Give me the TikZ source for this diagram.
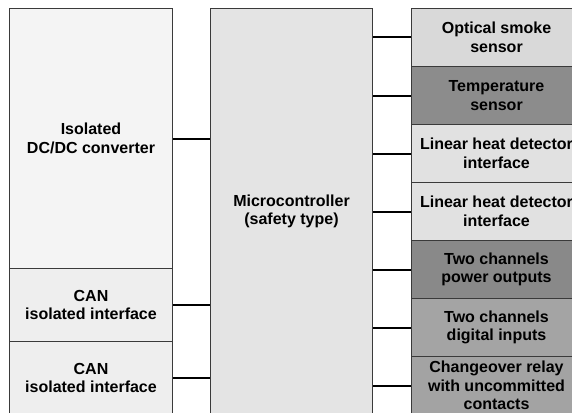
\documentclass[tikz,border=0pt]{standalone}
\usepackage{fontspec}
\setmainfont{Liberation Sans}
\definecolor{cDC}{HTML}{F4F4F4}
\definecolor{cCAN}{HTML}{EEEEEE}
\definecolor{cMCU}{HTML}{E4E4E4}
\definecolor{cOpt}{HTML}{D9D9D9}
\definecolor{cTemp}{HTML}{8C8C8C}
\definecolor{cLin}{HTML}{E1E1E1}
\definecolor{cPow}{HTML}{898989}
\definecolor{cDig}{HTML}{A4A4A4}
\definecolor{cRel}{HTML}{A3A3A3}
\definecolor{cEdge}{HTML}{3A3A3A}
\begin{document}
\begin{tikzpicture}[x=1pt,y=-1pt,
  blk/.style={draw=cEdge, line width=1pt, rectangle, anchor=north west, inner sep=0pt,
    align=center, font=\fontsize{16}{18.5}\selectfont\bfseries, text=black},
  lbox/.style={blk, minimum width=163pt},
  rbox/.style={blk, minimum width=170pt, minimum height=58pt},
  wire/.style={draw=black, line width=2pt}]
\useasboundingbox (0,0) rectangle (572,412);
\clip (0,0) rectangle (572,412);
\fill[white] (0,0) rectangle (572,412);
% left column
\node[lbox, fill=cDC, minimum height=260pt] (dcdc) at (9,8) {Isolated\\DC/DC converter};
\node[lbox, fill=cCAN, minimum height=73pt] (can1) at (9,268) {CAN\\isolated interface};
\node[lbox, fill=cCAN, minimum height=73pt] (can2) at (9,341) {CAN\\isolated interface};
% microcontroller
\node[blk, fill=cMCU, minimum width=162pt, minimum height=406pt] (mcu) at (210,8) {Microcontroller\\(safety type)};
% right column
\node[rbox, fill=cOpt] (s1) at (411,8) {Optical smoke\\sensor};
\node[rbox, fill=cTemp] (s2) at (411,66) {Temperature\\sensor};
\node[rbox, fill=cLin] (s3) at (411,124) {Linear heat detector\\interface};
\node[rbox, fill=cLin] (s4) at (411,182) {Linear heat detector\\interface};
\node[rbox, fill=cPow] (s5) at (411,240) {Two channels\\power outputs};
\node[rbox, fill=cDig] (s6) at (411,298) {Two channels\\digital inputs};
\node[rbox, fill=cRel] (s7) at (411,356) {Changeover relay\\with uncommitted\\contacts};
% connectors
\foreach \n in {dcdc,can1,can2}
  \draw[wire] (\n.east) -- (mcu.west |- \n.east);
\foreach \n in {s1,s2,s3,s4,s5,s6,s7}
  \draw[wire] (mcu.east |- \n.west) -- (\n.west);
\end{tikzpicture}
\end{document}
